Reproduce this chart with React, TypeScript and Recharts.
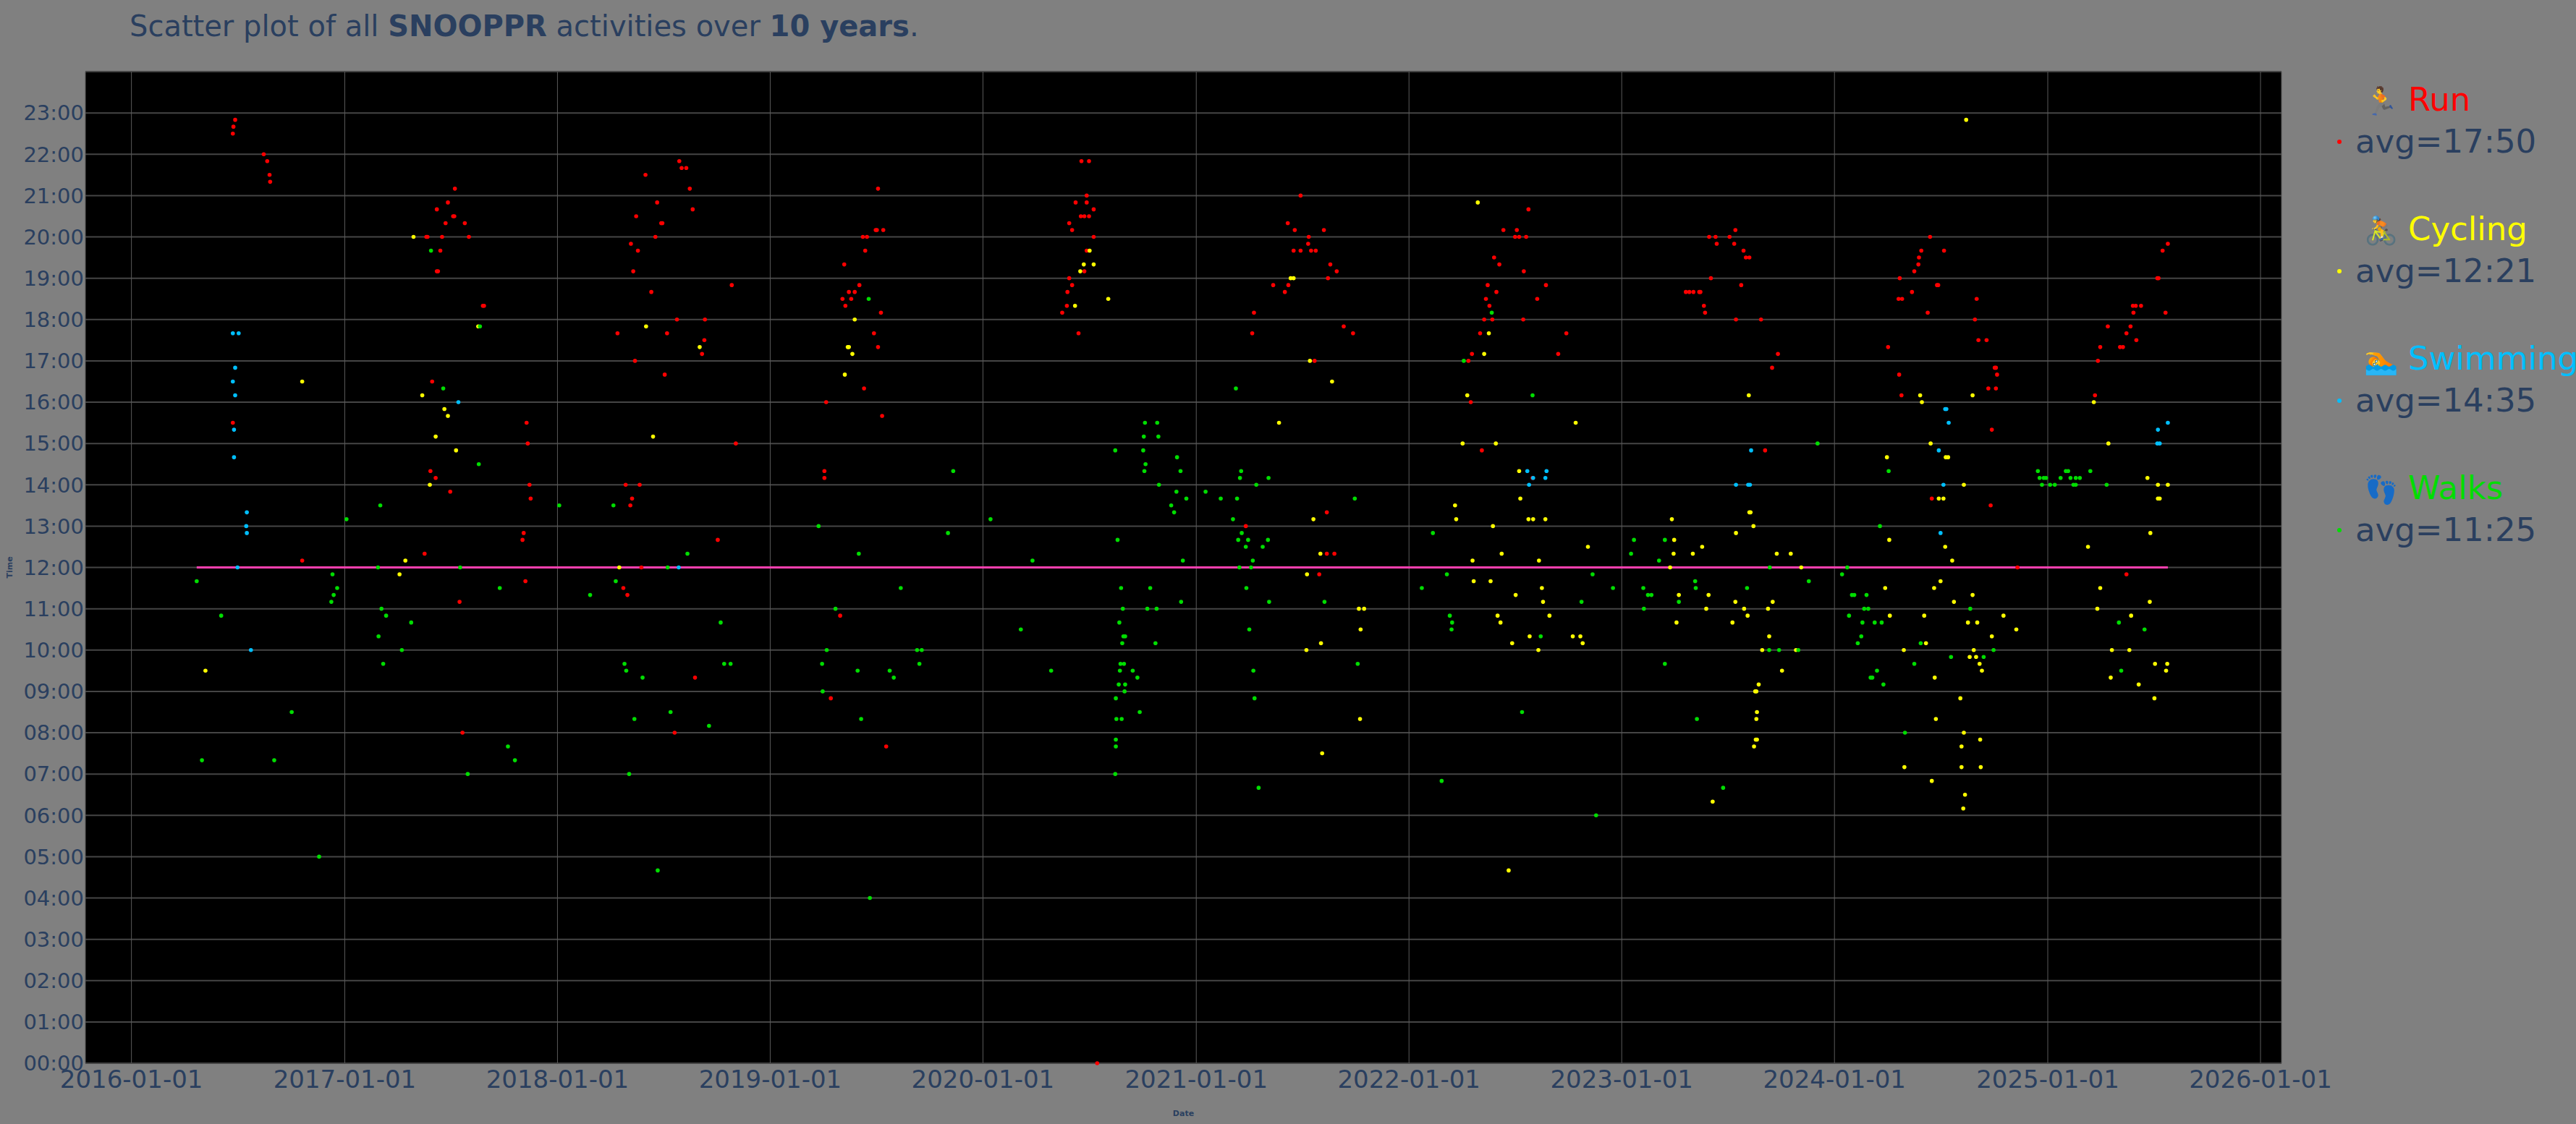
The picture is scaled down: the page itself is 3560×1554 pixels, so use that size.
import {
  CartesianGrid,
  Legend,
  ReferenceLine,
  Scatter,
  ScatterChart,
  XAxis,
  YAxis,
} from "recharts";

// activity start times ("date time")
const RUN = [
  "2016-06-23 22:30", "2016-06-24 22:40", "2016-06-27 22:50", "2016-08-15 22:00", "2016-08-21 21:50",
  "2016-08-25 21:30", "2016-08-26 21:20", "2016-06-23 15:30", "2016-10-20 12:10",
  "2017-05-18 12:20", "2017-05-21 20:00", "2017-05-23 20:00", "2017-05-28 14:20", "2017-05-31 16:30",
  "2017-06-06 14:10", "2017-06-08 20:40", "2017-06-08 19:10", "2017-06-10 19:10", "2017-06-14 19:40",
  "2017-06-17 20:00", "2017-06-23 20:20", "2017-06-27 20:50", "2017-07-01 13:50", "2017-07-06 20:30",
  "2017-07-08 20:30", "2017-07-09 21:10", "2017-07-17 11:10", "2017-07-22 08:00", "2017-07-26 20:20",
  "2017-08-02 20:00", "2017-08-26 18:20", "2017-08-28 18:20", "2017-11-02 12:40", "2017-11-04 12:50",
  "2017-11-07 11:40", "2017-11-09 15:30", "2017-11-11 15:00", "2017-11-14 14:00", "2017-11-16 13:40",
  "2018-04-14 17:40", "2018-04-24 11:30", "2018-04-28 14:00", "2018-05-01 11:20", "2018-05-06 13:30",
  "2018-05-07 19:50", "2018-05-09 13:40", "2018-05-11 19:10", "2018-05-14 17:00", "2018-05-16 20:30",
  "2018-05-19 19:40", "2018-05-22 14:00", "2018-05-25 12:00", "2018-06-01 21:30", "2018-06-11 18:40",
  "2018-06-18 20:00", "2018-06-21 20:50", "2018-06-28 20:20", "2018-06-30 20:20", "2018-07-04 16:40",
  "2018-07-08 17:40", "2018-07-21 08:00", "2018-07-25 18:00", "2018-07-29 21:50", "2018-08-02 21:40",
  "2018-08-10 21:40", "2018-08-16 21:10", "2018-08-21 20:40", "2018-08-25 09:20", "2018-09-06 17:10",
  "2018-09-10 17:30", "2018-09-11 18:00", "2018-10-03 12:40", "2018-10-27 18:50", "2018-11-03 15:00",
  "2019-04-04 14:20", "2019-04-04 14:10", "2019-04-07 16:00", "2019-04-15 08:50", "2019-05-01 10:50",
  "2019-05-05 18:30", "2019-05-08 19:20", "2019-05-10 18:20", "2019-05-16 18:40", "2019-05-20 18:30",
  "2019-05-26 18:40", "2019-06-03 18:50", "2019-06-09 20:00", "2019-06-11 16:20", "2019-06-13 19:40",
  "2019-06-16 20:00", "2019-06-28 17:40", "2019-07-01 20:10", "2019-07-03 20:10", "2019-07-05 21:10",
  "2019-07-05 17:20", "2019-07-10 18:10", "2019-07-12 15:40", "2019-07-14 20:10", "2019-07-19 07:40",
  "2020-05-16 18:10", "2020-05-24 18:20", "2020-05-25 18:40", "2020-05-28 20:20", "2020-05-28 19:00",
  "2020-06-02 20:10", "2020-06-02 18:50", "2020-06-08 20:50", "2020-06-13 17:40", "2020-06-17 20:30",
  "2020-06-18 21:50", "2020-06-23 20:30", "2020-06-23 19:10", "2020-06-27 21:00", "2020-06-27 20:50",
  "2020-06-27 19:40", "2020-07-01 21:50", "2020-07-01 20:30", "2020-07-09 20:40", "2020-07-09 20:00",
  "2020-07-15 00:00",
  "2021-03-27 13:00", "2021-04-07 17:40", "2021-04-10 18:10", "2021-05-13 18:50", "2021-06-02 18:40",
  "2021-06-07 20:20", "2021-06-08 18:50", "2021-06-17 19:40", "2021-06-19 20:10", "2021-06-29 21:00",
  "2021-06-29 19:40", "2021-07-12 19:50", "2021-07-13 20:00", "2021-07-17 19:40", "2021-07-23 17:00",
  "2021-07-25 19:40", "2021-07-31 11:50", "2021-08-08 20:10", "2021-08-13 13:20", "2021-08-13 12:20",
  "2021-08-15 19:00", "2021-08-19 19:20", "2021-08-26 12:20", "2021-08-30 19:10", "2021-09-11 17:50",
  "2021-09-27 17:40",
  "2022-04-13 17:00", "2022-04-17 16:00", "2022-04-19 17:10", "2022-05-03 17:40", "2022-05-06 14:50",
  "2022-05-10 18:00", "2022-05-13 18:30", "2022-05-16 18:50", "2022-05-19 18:20", "2022-05-24 18:00",
  "2022-05-27 19:30", "2022-05-31 18:40", "2022-06-05 19:20", "2022-06-12 20:10", "2022-07-02 20:00",
  "2022-07-05 20:10", "2022-07-09 20:00", "2022-07-16 18:00", "2022-07-17 19:10", "2022-07-21 20:00",
  "2022-07-25 20:40", "2022-08-01 14:10", "2022-08-09 18:30", "2022-08-24 18:50", "2022-09-14 17:10",
  "2022-09-28 17:40",
  "2023-04-21 18:40", "2023-04-27 18:40", "2023-05-04 18:40", "2023-05-14 18:40", "2023-05-16 18:40",
  "2023-05-22 18:20", "2023-05-24 18:10", "2023-05-31 20:00", "2023-06-03 19:00", "2023-06-11 20:00",
  "2023-06-13 19:50", "2023-07-05 20:00", "2023-07-13 19:50", "2023-07-15 20:10", "2023-07-16 18:00",
  "2023-07-25 18:50", "2023-07-29 19:40", "2023-08-02 19:30", "2023-08-08 19:30", "2023-08-28 18:00",
  "2023-09-04 14:50", "2023-09-16 16:50", "2023-09-26 17:10",
  "2024-04-02 17:20", "2024-04-20 18:30", "2024-04-21 16:40", "2024-04-22 19:00", "2024-04-25 16:10",
  "2024-04-26 18:30", "2024-05-13 18:40", "2024-05-17 19:10", "2024-05-24 19:20", "2024-05-25 19:30",
  "2024-05-29 19:40", "2024-06-09 18:10", "2024-06-13 20:00", "2024-06-16 13:40", "2024-06-25 18:50",
  "2024-06-27 18:50", "2024-07-07 19:40", "2024-08-29 18:00", "2024-09-01 18:30", "2024-09-04 17:30",
  "2024-09-18 17:30", "2024-09-21 16:20", "2024-09-25 13:30", "2024-09-27 15:20", "2024-10-02 16:50",
  "2024-10-04 16:50", "2024-10-04 16:20", "2024-10-06 16:40", "2024-11-10 12:00",
  "2025-03-23 16:10", "2025-03-28 17:00", "2025-04-01 17:20", "2025-04-14 17:50", "2025-05-05 17:20",
  "2025-05-10 17:20", "2025-05-16 17:40", "2025-05-16 11:50", "2025-05-23 17:50", "2025-05-27 18:20",
  "2025-05-28 18:10", "2025-06-01 18:20", "2025-06-02 17:30", "2025-06-10 18:20", "2025-07-08 19:00",
  "2025-07-10 19:00", "2025-07-17 19:40", "2025-07-22 18:10", "2025-07-26 19:50",
];

const CYCLING = [
  "2016-05-07 09:30", "2016-10-20 16:30",
  "2017-04-05 11:50", "2017-04-15 12:10", "2017-04-29 20:00", "2017-05-14 16:10", "2017-05-27 14:00",
  "2017-06-06 15:10", "2017-06-21 15:50", "2017-06-27 15:40", "2017-07-11 14:50", "2017-08-18 17:50",
  "2018-04-17 12:00", "2018-06-02 17:50", "2018-06-14 15:10", "2018-09-02 17:20",
  "2019-05-09 16:40", "2019-05-14 17:20", "2019-05-16 17:20", "2019-05-22 17:10", "2019-05-26 18:00",
  "2020-06-07 18:20", "2020-06-16 19:10", "2020-06-22 19:20", "2020-07-02 19:40", "2020-07-09 19:20",
  "2020-08-03 18:30",
  "2021-05-23 15:30", "2021-06-12 19:00", "2021-06-17 19:00", "2021-07-09 10:00", "2021-07-10 11:50",
  "2021-07-15 17:00", "2021-07-21 13:10", "2021-08-02 12:20", "2021-08-03 10:10", "2021-08-05 07:30",
  "2021-08-22 16:30", "2021-10-07 11:00", "2021-10-09 08:20", "2021-10-10 10:30", "2021-10-16 11:00",
  "2022-03-21 13:30", "2022-03-23 13:10", "2022-04-03 15:00", "2022-04-11 16:10", "2022-04-20 12:10",
  "2022-04-22 11:40", "2022-04-29 20:50", "2022-05-10 17:10", "2022-05-18 17:40", "2022-05-21 11:40",
  "2022-05-25 13:00", "2022-05-30 15:00", "2022-06-02 10:50", "2022-06-07 10:40", "2022-06-09 12:20",
  "2022-06-21 04:40", "2022-06-27 10:10", "2022-07-03 11:20", "2022-07-09 14:20", "2022-07-11 13:40",
  "2022-07-25 13:10", "2022-07-27 10:20", "2022-08-02 13:10", "2022-08-11 10:00", "2022-08-12 12:10",
  "2022-08-17 11:30", "2022-08-19 11:10", "2022-08-23 13:10", "2022-08-30 10:50", "2022-10-09 10:20",
  "2022-10-14 15:30", "2022-10-22 10:20", "2022-10-26 10:10", "2022-11-04 12:30",
  "2023-03-25 12:00", "2023-03-28 13:10", "2023-03-31 12:20", "2023-04-01 12:40", "2023-04-05 10:40",
  "2023-04-09 11:20", "2023-05-03 12:20", "2023-05-19 12:30", "2023-05-26 11:00", "2023-05-30 11:20",
  "2023-06-06 06:20", "2023-07-10 10:40", "2023-07-15 11:10", "2023-07-16 12:50", "2023-07-30 11:00",
  "2023-08-05 10:50", "2023-08-07 16:10", "2023-08-08 13:20", "2023-08-10 13:20", "2023-08-15 13:00",
  "2023-08-16 07:40", "2023-08-19 07:50", "2023-08-21 07:50", "2023-08-18 09:00", "2023-08-20 09:00",
  "2023-08-20 08:20", "2023-08-21 08:30", "2023-08-24 09:10", "2023-08-30 10:00", "2023-09-09 11:00",
  "2023-09-11 10:20", "2023-09-17 11:10", "2023-09-24 12:20", "2023-10-03 09:30", "2023-10-18 12:20",
  "2023-10-27 10:00", "2023-11-05 12:00",
  "2024-03-28 11:30", "2024-03-31 14:40", "2024-04-04 12:40", "2024-04-05 10:50", "2024-04-29 10:00",
  "2024-04-30 07:10", "2024-05-27 16:10", "2024-05-30 16:00", "2024-06-03 10:50", "2024-06-06 10:10",
  "2024-06-14 15:00", "2024-06-16 06:50", "2024-06-20 11:30", "2024-06-21 09:20", "2024-06-23 08:20",
  "2024-06-28 13:40", "2024-07-01 11:40", "2024-07-06 13:40", "2024-07-09 12:30", "2024-07-10 14:40",
  "2024-07-14 14:40", "2024-07-21 12:10", "2024-07-24 11:10", "2024-08-04 08:50", "2024-08-06 07:40",
  "2024-08-06 07:10", "2024-08-09 06:10", "2024-08-10 14:00", "2024-08-10 08:00", "2024-08-12 06:30",
  "2024-08-14 22:50", "2024-08-17 10:40", "2024-08-20 09:50", "2024-08-25 16:10", "2024-08-25 11:20",
  "2024-08-27 10:00", "2024-08-31 09:50", "2024-09-02 10:40", "2024-09-06 09:40", "2024-09-07 07:50",
  "2024-09-08 07:10", "2024-09-10 09:30", "2024-09-27 10:20", "2024-10-17 10:50", "2024-11-08 10:30",
  "2025-03-11 12:30", "2025-03-21 16:00", "2025-03-27 11:00", "2025-04-01 11:30", "2025-04-15 15:00",
  "2025-04-19 09:20", "2025-04-21 10:00", "2025-05-21 10:00", "2025-05-24 10:50", "2025-06-06 09:10",
  "2025-06-21 14:10", "2025-06-25 11:10", "2025-06-26 12:50", "2025-07-03 08:50", "2025-07-04 09:40",
  "2025-07-09 14:00", "2025-07-09 13:40", "2025-07-12 13:40", "2025-07-23 09:30", "2025-07-25 09:40",
  "2025-07-26 14:00",
];

const SWIMMING = [
  "2016-06-23 17:40", "2016-07-03 17:40", "2016-06-27 16:50", "2016-06-23 16:30", "2016-06-27 16:10",
  "2016-06-25 15:20", "2016-06-25 14:40", "2016-07-17 13:20", "2016-07-16 13:00", "2016-07-17 12:50",
  "2016-07-01 12:00", "2016-07-24 10:00", "2017-07-15 16:00", "2018-07-28 12:00",
  "2022-07-23 14:20", "2022-07-26 14:00", "2022-08-02 14:10", "2022-08-23 14:10", "2022-08-25 14:20",
  "2023-07-16 14:00", "2023-08-06 14:00", "2023-08-09 14:00", "2023-08-11 14:50",
  "2024-06-28 14:50", "2024-07-01 12:50", "2024-07-06 14:00", "2024-07-09 15:50", "2024-07-11 15:50",
  "2024-07-15 15:30", "2025-07-08 15:00", "2025-07-09 15:20", "2025-07-12 15:00", "2025-07-26 15:30",
];

const WALKS = [
  "2016-04-22 11:40", "2016-05-01 07:20", "2016-06-03 10:50", "2016-09-02 07:20", "2016-10-02 08:30",
  "2016-11-18 05:00", "2016-12-09 11:10", "2016-12-11 11:50", "2016-12-13 11:20", "2016-12-19 11:30",
  "2017-01-04 13:10", "2017-02-27 12:00", "2017-02-28 10:20", "2017-03-03 13:30", "2017-03-05 11:00",
  "2017-03-08 09:40", "2017-03-13 10:50", "2017-04-09 10:00", "2017-04-25 10:40", "2017-05-29 19:40",
  "2017-06-19 16:20", "2017-07-18 12:00", "2017-07-31 07:00", "2017-08-19 14:30", "2017-08-21 17:50",
  "2017-09-24 11:30", "2017-10-08 07:40", "2017-10-20 07:20",
  "2018-01-04 13:30", "2018-02-26 11:20", "2018-04-07 13:30", "2018-04-11 11:40", "2018-04-26 09:40",
  "2018-04-29 09:30", "2018-05-04 07:00", "2018-05-13 08:20", "2018-05-27 09:20", "2018-06-22 04:40",
  "2018-07-09 12:00", "2018-07-14 08:30", "2018-08-12 12:20", "2018-09-18 08:10", "2018-10-08 10:40",
  "2018-10-14 09:40", "2018-10-25 09:40",
  "2019-03-25 13:00", "2019-03-31 09:40", "2019-04-01 09:00", "2019-04-08 10:00", "2019-04-23 11:00",
  "2019-05-31 09:30", "2019-06-02 12:20", "2019-06-06 08:20", "2019-06-19 18:30", "2019-06-21 04:00",
  "2019-07-25 09:30", "2019-08-01 09:20", "2019-08-13 11:30", "2019-09-10 10:00", "2019-09-14 09:40",
  "2019-09-18 10:00", "2019-11-02 12:50", "2019-11-11 14:20",
  "2020-01-14 13:10", "2020-03-06 10:30", "2020-03-26 12:10", "2020-04-27 09:30", "2020-08-15 14:50",
  "2020-08-15 07:00", "2020-08-16 08:50", "2020-08-16 07:50", "2020-08-16 07:40", "2020-08-17 08:20",
  "2020-08-19 12:40", "2020-08-21 09:10", "2020-08-22 10:40", "2020-08-23 09:30", "2020-08-24 09:40",
  "2020-08-25 11:30", "2020-08-26 08:20", "2020-08-27 10:10", "2020-08-28 11:00", "2020-08-29 10:20",
  "2020-08-30 09:40", "2020-08-31 09:00", "2020-09-01 10:20", "2020-09-01 09:10", "2020-09-14 09:30",
  "2020-09-22 09:20", "2020-09-26 08:30", "2020-10-02 14:50", "2020-10-03 15:10", "2020-10-04 14:20",
  "2020-10-05 15:30", "2020-10-06 14:30", "2020-10-09 11:00", "2020-10-14 11:30", "2020-10-23 10:10",
  "2020-10-25 11:00", "2020-10-26 15:30", "2020-10-28 15:10", "2020-10-29 14:00", "2020-11-19 13:30",
  "2020-11-24 13:20", "2020-11-28 13:50", "2020-11-29 14:40", "2020-12-05 14:20", "2020-12-06 11:10",
  "2020-12-09 12:10", "2020-12-15 13:40",
  "2021-01-17 13:50", "2021-02-12 13:40", "2021-03-05 13:10", "2021-03-10 16:20", "2021-03-12 13:40",
  "2021-03-14 12:40", "2021-03-16 12:00", "2021-03-17 14:10", "2021-03-19 14:20", "2021-03-20 12:50",
  "2021-03-27 12:30", "2021-03-28 11:30", "2021-03-31 12:40", "2021-04-02 10:30", "2021-04-05 12:00",
  "2021-04-08 12:10", "2021-04-09 09:30", "2021-04-11 08:50", "2021-04-14 14:00", "2021-04-18 06:40",
  "2021-04-25 12:30", "2021-05-04 12:40", "2021-05-05 14:10", "2021-05-06 11:10", "2021-08-09 11:10",
  "2021-09-30 13:40", "2021-10-05 09:40",
  "2022-01-23 11:30", "2022-02-11 12:50", "2022-02-26 06:50", "2022-03-07 11:50", "2022-03-12 10:50",
  "2022-03-15 10:30", "2022-03-16 10:40", "2022-04-05 17:00", "2022-05-23 18:10", "2022-07-14 08:30",
  "2022-08-01 16:10", "2022-08-15 10:20", "2022-10-24 11:10", "2022-11-12 11:50", "2022-11-18 06:00",
  "2022-12-17 11:30",
  "2023-01-17 12:20", "2023-01-22 12:40", "2023-02-07 11:30", "2023-02-08 11:00", "2023-02-15 11:20",
  "2023-02-21 11:20", "2023-03-06 12:10", "2023-03-16 12:40", "2023-03-16 09:40", "2023-04-09 11:10",
  "2023-05-07 11:40", "2023-05-08 11:30", "2023-05-10 08:20", "2023-06-24 06:40", "2023-08-04 11:30",
  "2023-09-11 10:00", "2023-09-12 12:00", "2023-09-28 10:00", "2023-10-31 10:00", "2023-11-18 11:40",
  "2023-12-03 15:00",
  "2024-01-14 11:50", "2024-01-23 12:00", "2024-01-26 10:50", "2024-01-31 11:20", "2024-02-04 11:20",
  "2024-02-10 10:10", "2024-02-16 10:20", "2024-02-18 10:40", "2024-02-21 11:00", "2024-02-25 11:20",
  "2024-02-28 11:00", "2024-03-03 09:20", "2024-03-06 09:20", "2024-03-10 10:40", "2024-03-14 09:30",
  "2024-03-19 13:00", "2024-03-22 10:40", "2024-03-25 09:10", "2024-04-03 14:20", "2024-05-01 08:00",
  "2024-05-17 09:40", "2024-05-28 10:10", "2024-07-19 09:50", "2024-08-21 11:00", "2024-09-13 09:50",
  "2024-09-30 10:00", "2024-12-15 14:20", "2024-12-18 14:10", "2024-12-22 14:00", "2024-12-25 14:10",
  "2024-12-29 14:10",
  "2025-01-05 14:00", "2025-01-13 14:00", "2025-01-23 14:10", "2025-02-01 14:20", "2025-02-05 14:20",
  "2025-02-09 14:10", "2025-02-14 14:00", "2025-02-18 14:10", "2025-02-18 14:00", "2025-02-25 14:10",
  "2025-03-15 14:20", "2025-04-12 14:00", "2025-05-03 10:40", "2025-05-07 09:30", "2025-06-16 10:30",
];

const YEAR_TICKS = [2016, 2017, 2018, 2019, 2020, 2021, 2022, 2023, 2024, 2025, 2026];
const HOUR_TICKS = [0, 1, 2, 3, 4, 5, 6, 7, 8, 9, 10, 11, 12, 13, 14, 15, 16, 17, 18, 19, 20, 21, 22, 23];
const AVG_LINE_HOUR = 12;

const SERIES = [
  { name: "Run", icon: "🏃", color: "#ff0000", avg: "17:50", data: RUN },
  { name: "Cycling", icon: "🚴", color: "#ffff00", avg: "12:21", data: CYCLING },
  { name: "Swimming", icon: "🏊", color: "#00bfff", avg: "14:35", data: SWIMMING },
  { name: "Walks", icon: "👣", color: "#00dd00", avg: "11:25", data: WALKS },
];

const FONT = '"DejaVu Sans", Verdana, sans-serif';
const TEXT = "#2a3f5f";

const toPoint = (s: string) => {
  const [d, t] = s.split(" ");
  const [y, m, day] = d.split("-").map(Number);
  const [hh, mm] = t.split(":").map(Number);
  return { x: Date.UTC(y, m - 1, day), y: hh + mm / 60 };
};

const fmtDate = (v: number) => new Date(v).toISOString().slice(0, 10);
const fmtHour = (h: number) => `${String(h).padStart(2, "0")}:00`;

function LegendBox() {
  return (
    <div style={{ position: "relative", width: 340, height: 720, fontFamily: FONT, fontSize: 45 }}>
      {SERIES.map((s, i) => (
        <div key={s.name} style={{ position: "absolute", left: 0, top: i * 179, width: 340 }}>
          <div style={{ height: 58, lineHeight: "58px", whiteSpace: "nowrap", color: s.color }}>
            <span style={{ display: "inline-block", width: 61, marginLeft: 47, fontSize: 38 }}>{s.icon}</span>
            {s.name}
          </div>
          <div style={{ position: "relative", height: 58, lineHeight: "58px", whiteSpace: "nowrap", color: TEXT }}>
            <span
              style={{
                position: "absolute",
                left: 10,
                top: 26,
                width: 6,
                height: 6,
                borderRadius: 3,
                background: s.color,
              }}
            />
            <span style={{ marginLeft: 35 }}>avg={s.avg}</span>
          </div>
        </div>
      ))}
    </div>
  );
}

export default function App() {
  const series = SERIES.map((s) => ({ ...s, points: s.data.map(toPoint) }));
  const allX = series.flatMap((s) => s.points.map((p) => p.x));
  const firstDay = Math.min(...allX);
  const lastDay = Math.max(...allX);
  const xTicks = YEAR_TICKS.map((y) => Date.UTC(y, 0, 1));

  return (
    <div
      style={{
        position: "absolute",
        left: 0,
        top: 0,
        width: 3560,
        height: 1554,
        background: "#808080",
        overflow: "hidden",
        fontFamily: FONT,
      }}
    >
      <div
        style={{
          position: "absolute",
          left: 179,
          top: 16,
          fontSize: 40,
          lineHeight: "40px",
          color: TEXT,
          whiteSpace: "nowrap",
        }}
      >
        Scatter plot of all <b>SNOOPPR</b> activities over <b>10 years</b>.
      </div>
      <div style={{ position: "absolute", left: 0, top: 0 }}>
        <ScatterChart width={3560} height={1554} margin={{ top: 99, right: 407, bottom: 0, left: 0 }}>
          <CartesianGrid fill="#000000" vertical={false} stroke="#454545" strokeWidth={2} />
          <CartesianGrid horizontal={false} stroke="#5a5a5a" strokeWidth={1} />
          <XAxis
            dataKey="x"
            type="number"
            domain={[Date.UTC(2015, 9, 14), Date.UTC(2026, 1, 6)]}
            ticks={xTicks}
            tickFormatter={fmtDate}
            height={84}
            axisLine={false}
            tickLine={false}
            tickMargin={4}
            tick={{ fill: TEXT, fontSize: 34, fontFamily: FONT }}
            label={{
              value: "Date",
              position: "insideBottom",
              offset: 11,
              style: { fill: TEXT, fontSize: 11, fontWeight: "bold", fontFamily: FONT },
            }}
          />
          <YAxis
            dataKey="y"
            type="number"
            domain={[0, 24]}
            ticks={HOUR_TICKS}
            tickFormatter={fmtHour}
            width={118}
            axisLine={false}
            tickLine={false}
            tickSize={0}
            tickMargin={2}
            tick={{ fill: TEXT, fontSize: 29, fontFamily: FONT }}
            label={{
              value: "Time",
              angle: -90,
              position: "insideLeft",
              offset: 13,
              style: { fill: TEXT, fontSize: 11, fontWeight: "bold", fontFamily: FONT, textAnchor: "middle" },
            }}
          />
          {series.map((s) => (
            <Scatter
              key={s.name}
              name={s.name}
              data={s.points}
              fill={s.color}
              isAnimationActive={false}
              shape={(p: any) => <circle cx={p.cx} cy={p.cy} r={2.8} fill={s.color} />}
            />
          ))}
          <ReferenceLine
            segment={[
              { x: firstDay, y: AVG_LINE_HOUR },
              { x: lastDay, y: AVG_LINE_HOUR },
            ]}
            stroke="#ff40b0"
            strokeWidth={3}
          />
          <Legend
            layout="vertical"
            align="center"
            verticalAlign="middle"
            content={() => <LegendBox />}
            wrapperStyle={{ top: 109, left: 3220, width: 340 }}
          />
        </ScatterChart>
      </div>
    </div>
  );
}
